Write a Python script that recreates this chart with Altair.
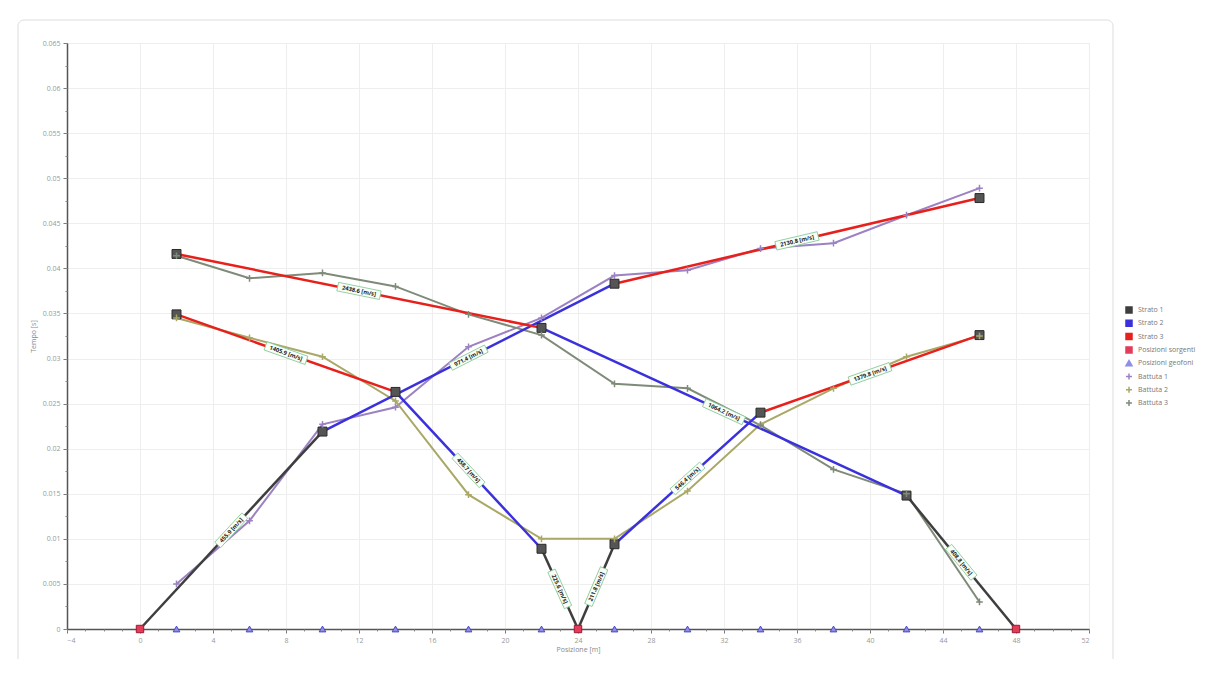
import math
import altair as alt
import pandas as pd

# ---------------- data ----------------
geofoni_x = [2, 6, 10, 14, 18, 22, 26, 30, 34, 38, 42, 46]
sorgenti_x = [0, 24, 48]

# picked first arrivals per shot (s), one per geophone
battuta_1_t = [0.0050, 0.0120, 0.0227, 0.0246, 0.0313, 0.0345, 0.0392, 0.0398, 0.0422, 0.0428, 0.0459, 0.0489]
battuta_2_t = [0.0345, 0.0323, 0.0302, 0.0253, 0.0149, 0.0100, 0.0100, 0.0153, 0.0227, 0.0267, 0.0302, 0.0325]
battuta_3_t = [0.0414, 0.0389, 0.0395, 0.0380, 0.0349, 0.0326, 0.0272, 0.0267, 0.0226, 0.0177, 0.0150, 0.0030]

# fitted layer segments
strato_serie = ["Strato 1", "Strato 2", "Strato 3",
                "Strato 1", "Strato 1", "Strato 2", "Strato 2", "Strato 3", "Strato 3",
                "Strato 1", "Strato 2", "Strato 3"]
strato_x1 = [0, 10, 26, 22, 24, 14, 26, 2, 34, 42, 22, 2]
strato_t1 = [0.0, 0.0219, 0.0383, 0.0089, 0.0, 0.0263, 0.0094, 0.0349, 0.0240, 0.0148, 0.0334, 0.0416]
strato_x2 = [10, 26, 46, 24, 26, 22, 34, 14, 46, 48, 42, 22]
strato_t2 = [0.0219, 0.0383, 0.0478, 0.0, 0.0094, 0.0089, 0.0240, 0.0263, 0.0326, 0.0, 0.0148, 0.0334]
strato_label = ["455.9 [m/s]", "971.4 [m/s]", "2130.8 [m/s]",
                "225.6 [m/s]", "211.8 [m/s]", "458.7 [m/s]", "546.4 [m/s]", "1405.9 [m/s]", "1379.8 [m/s]",
                "408.8 [m/s]", "1064.2 [m/s]", "2438.6 [m/s]"]

serie_nomi = ["Strato 1", "Strato 2", "Strato 3", "Posizioni sorgenti", "Posizioni geofoni",
              "Battuta 1", "Battuta 2", "Battuta 3"]
serie_colori = ["#3e3e3e", "#3a30dc", "#e8201c", "#e23c5a", "#8e8ee8",
                "#9c82c2", "#aaa866", "#7f8b79"]
CROSS = "M-1,0H1M0,-1V1"
serie_forme = ["square", "square", "square", "square", "triangle-up", CROSS, CROSS, CROSS]

x_ticks = list(range(-4, 53, 4))
x_minor = list(range(-4, 53))
y_ticks = [round(i * 0.005, 4) for i in range(14)]
y_minor = [round(i * 0.0025, 5) for i in range(27)]

# ---------------- layout ----------------
W, H = 1022, 586
XMIN, XMAX, YMAX = -4, 52, 0.065
FONT = "Open Sans"

# ---------------- tables ----------------
seg_rows = []
for i, s in enumerate(strato_serie):
    seg_rows.append({"seg": i, "serie": s, "x": strato_x1[i], "t": strato_t1[i]})
    seg_rows.append({"seg": i, "serie": s, "x": strato_x2[i], "t": strato_t2[i]})
seg_df = pd.DataFrame(seg_rows)

ends = []
seen = set()
for i in range(len(strato_serie)):
    for (xx, tt) in ((strato_x1[i], strato_t1[i]), (strato_x2[i], strato_t2[i])):
        if tt > 0 and (xx, tt) not in seen:
            seen.add((xx, tt))
            ends.append({"x": xx, "t": tt})
ends_df = pd.DataFrame(ends)

lab_rows = []
for i in range(len(strato_serie)):
    dx = (strato_x2[i] - strato_x1[i]) * W / (XMAX - XMIN)
    dy = -(strato_t2[i] - strato_t1[i]) * H / YMAX
    ang = math.degrees(math.atan2(dy, dx)) % 360
    w = 3.45 * len(strato_label[i]) + 2
    lab_rows.append({"x": (strato_x1[i] + strato_x2[i]) / 2,
                     "t": (strato_t1[i] + strato_t2[i]) / 2,
                     "label": strato_label[i], "ang": ang, "sz": w * w})
lab_df = pd.DataFrame(lab_rows)

bat_rows = []
for name, ts in (("Battuta 1", battuta_1_t), ("Battuta 2", battuta_2_t), ("Battuta 3", battuta_3_t)):
    for xx, tt in zip(geofoni_x, ts):
        bat_rows.append({"serie": name, "x": xx, "t": tt})
bat_df = pd.DataFrame(bat_rows)

src_df = pd.DataFrame({"serie": "Posizioni sorgenti", "x": sorgenti_x, "t": [0.0] * len(sorgenti_x)})
geo_df = pd.DataFrame({"serie": "Posizioni geofoni", "x": geofoni_x, "t": [0.0] * len(geofoni_x)})

# ---------------- encodings ----------------
xscale = alt.Scale(domain=[XMIN, XMAX], nice=False, zero=False)
yscale = alt.Scale(domain=[0, YMAX], nice=False, zero=False)

legend = alt.Legend(orient="none", legendX=1058, legendY=263, title="",
                    labelFontSize=7, labelColor="#777", labelFont=FONT,
                    symbolSize=36, symbolStrokeWidth=1.5, rowPadding=1.3,
                    labelOffset=5, padding=0)
color = alt.Color("serie:N", scale=alt.Scale(domain=serie_nomi, range=serie_colori), legend=legend)
shape = alt.Shape("serie:N", scale=alt.Scale(domain=serie_nomi, range=serie_forme), legend=legend)

X = alt.X("x:Q", scale=xscale, axis=None)
Y = alt.Y("t:Q", scale=yscale, axis=None)

ax_x = alt.Axis(values=x_ticks, title="Posizione [m]", orient="bottom", grid=True,
                gridColor="#eeeeee", labelColor="#999", labelFontSize=7, labelFont=FONT,
                titleFont=FONT, titleFontSize=7, titleColor="#888", titleFontWeight="normal",
                domainColor="#555", domainWidth=1.5, tickColor="#777", tickSize=4,
                labelPadding=3, titlePadding=2)
ax_y = alt.Axis(values=y_ticks, format="~g", title="Tempo [s]", orient="left", grid=True,
                gridColor="#eeeeee", labelColor="#999", labelFontSize=7, labelFont=FONT,
                titleFont=FONT, titleFontSize=7, titleColor="#888", titleFontWeight="normal",
                domainColor="#555", domainWidth=1.5, tickColor="#777", tickSize=4,
                labelPadding=3, titlePadding=6)
ax_xm = alt.Axis(values=x_minor, orient="bottom", labels=False, title="", grid=False,
                 domain=False, tickColor="#888", tickSize=2)
ax_ym = alt.Axis(values=y_minor, orient="left", labels=False, title="", grid=False,
                 domain=False, tickColor="#888", tickSize=2)

# ---------------- layers ----------------
frame = alt.Chart(pd.DataFrame({"k": [0]})).mark_rect(
    fillOpacity=0, stroke="#dddddd", strokeWidth=1, cornerRadius=6
).encode(x=alt.value(-49), x2=alt.value(1046), y=alt.value(-23), y2=alt.value(622))

bat_lines = alt.Chart(bat_df).mark_line(strokeWidth=2).encode(
    x=alt.X("x:Q", scale=xscale, axis=ax_x),
    y=alt.Y("t:Q", scale=yscale, axis=ax_y),
    color=color, order="x:Q")

minor_axes = alt.Chart(geo_df).mark_point(opacity=0).encode(
    x=alt.X("x:Q", scale=xscale, axis=ax_xm),
    y=alt.Y("t:Q", scale=yscale, axis=ax_ym))

strato_lines = alt.Chart(seg_df).mark_line(strokeWidth=2.5).encode(
    x=X, y=Y, color=color, detail="seg:N")

end_pts = alt.Chart(ends_df).mark_point(
    shape="square", filled=True, size=80, fill="#555555", stroke="#2a2a2a",
    strokeWidth=1, opacity=1
).encode(x=X, y=Y)

bat_pts = alt.Chart(bat_df).mark_point(filled=False, size=45, strokeWidth=1.5, opacity=1).encode(
    x=X, y=Y, color=color, shape=shape)

geo_pts = alt.Chart(geo_df).mark_point(filled=True, size=45, stroke="#4a48c0",
                                        strokeWidth=1, opacity=1).encode(
    x=X, y=Y, color=color, shape=shape)

src_pts = alt.Chart(src_df).mark_point(filled=True, size=55, stroke="#a01830",
                                        strokeWidth=1, opacity=1).encode(
    x=X, y=Y, color=color, shape=shape)

BOX = "M-1,-0.2H1V0.2H-1Z"
lab_box = alt.Chart(lab_df).mark_point(
    shape=BOX, filled=True, fill="#f8fff8", stroke="#86c896", strokeWidth=0.8, opacity=1
).encode(x=X, y=Y, angle=alt.Angle("ang:Q", scale=None), size=alt.Size("sz:Q", scale=None))

lab_txt = alt.Chart(lab_df).mark_text(
    font=FONT, fontSize=5.8, fontWeight="bold", color="#222222", align="center", baseline="middle"
).encode(x=X, y=Y, text="label:N", angle=alt.Angle("ang:Q", scale=None))

chart = alt.layer(
    frame, bat_lines, minor_axes, strato_lines, end_pts, bat_pts, geo_pts, src_pts, lab_box, lab_txt
).resolve_axis(x="independent", y="independent").properties(
    width=W, height=H,
    padding={"left": 59, "top": 35, "right": 108, "bottom": 30},
    autosize=alt.AutoSizeParams(type="none"),
).configure_view(strokeWidth=0).configure(font=FONT)

chart.save("out.html", embed_options={"renderer": "svg", "actions": False})
